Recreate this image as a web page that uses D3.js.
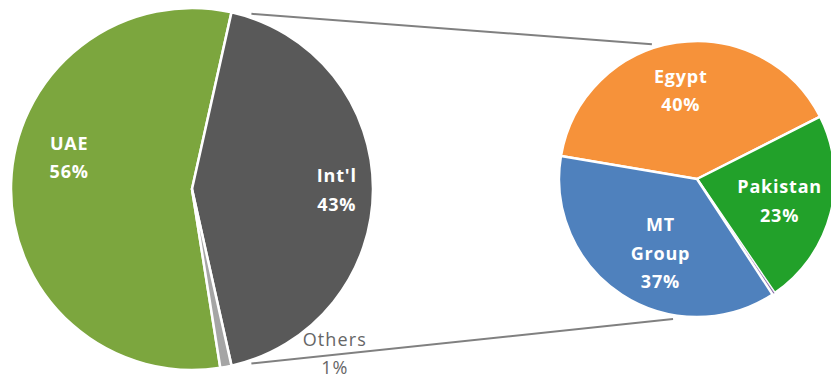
<!DOCTYPE html>
<html>
<head>
<meta charset="utf-8">
<script src="https://cdn.jsdelivr.net/npm/d3@7"></script>
<style>
  html, body { margin: 0; padding: 0; background: #ffffff; }
  svg { display: block; }
</style>
</head>
<body>
<svg id="chart" width="831" height="379"></svg>
<script>
// ---- data ----
const mainCategories = ["UAE", "Int'l", "Others"];
const mainValues = [56, 43, 1];
const subCategories = ["Egypt", "Pakistan", "Other", "MT Group"];
const subValues = [40, 23, 0.3, 37];
const mainLabels = ["56%", "43%", "1%"];
const subLabels = ["40%", "23%", "", "37%"];

// ---- layout / style ----
const W = 831, H = 379;
const deg = Math.PI / 180;
const mainPie = { cx: 192, cy: 189, r: 181 };
const subPie = { cx: 697, cy: 179, r: 138 };
const mainColors = { "UAE": "#7ca63e", "Int'l": "#595959", "Others": "#a5a5a5" };
const subColors = { "Egypt": "#f6923a", "Pakistan": "#22a12a", "Other": "#8064a2", "MT Group": "#4f81bd" };
// label placement: polar (angle deg clockwise from 12 o'clock, radius fraction)
const mainLabelPos = { "UAE": [284.3, 0.70], "Int'l": [90.5, 0.80], "Others": [139.3, 1.21] };
const subLabelPos = { "Egypt": [-10.4, 0.652], "Pakistan": [105, 0.62], "MT Group": [206.2, 0.60] };
const connectorEnds = [[-18.5, 1.03], [189.7, 1.03]];
const lineGap = 28.5, capH = 12.8;

const svg = d3.select("#chart");

// main pie: the split slice (Int'l) centred at 3 o'clock
const total = d3.sum(mainValues);
const before = mainValues[0] + mainValues[1] / 2;
const mainStart = 90 * deg - (before / total) * 2 * Math.PI;
const pieMain = d3.pie().sort(null).startAngle(mainStart).endAngle(mainStart + 2 * Math.PI);
const mainData = pieMain(mainValues).map((d, i) => Object.assign(d, { name: mainCategories[i], label: mainLabels[i] }));

const pieSub = d3.pie().sort(null).startAngle(-80.4 * deg).endAngle(-80.4 * deg + 2 * Math.PI);
const subData = pieSub(subValues).map((d, i) => Object.assign(d, { name: subCategories[i], label: subLabels[i] }));

const polar = (c, angDeg, rad) => [c.cx + rad * Math.sin(angDeg * deg), c.cy - rad * Math.cos(angDeg * deg)];
const polarR = (c, ang, rad) => [c.cx + rad * Math.sin(ang), c.cy - rad * Math.cos(ang)];

// connector lines (drawn beneath the pies)
const split = mainData[1];
const starts = [polarR(mainPie, split.startAngle, mainPie.r), polarR(mainPie, split.endAngle, mainPie.r)];
connectorEnds.forEach((e, i) => {
  const end = polar(subPie, e[0], subPie.r * e[1]);
  const s = starts[i];
  const dx = end[0] - s[0], dy = end[1] - s[1], len = Math.hypot(dx, dy);
  const s2 = [s[0] + dx / len * 20, s[1] + dy / len * 20];
  svg.append("line")
    .attr("x1", s2[0]).attr("y1", s2[1]).attr("x2", end[0]).attr("y2", end[1])
    .attr("stroke", "#808080").attr("stroke-width", 2);
});

const arcMain = d3.arc().innerRadius(0).outerRadius(mainPie.r);
const gMain = svg.append("g").attr("transform", `translate(${mainPie.cx},${mainPie.cy})`);
gMain.selectAll("path").data(mainData).join("path")
  .attr("d", arcMain)
  .attr("fill", d => mainColors[d.name])
  .attr("stroke", "#ffffff").attr("stroke-width", 2.5).attr("stroke-linejoin", "round");

const arcSub = d3.arc().innerRadius(0).outerRadius(subPie.r);
const gSub = svg.append("g").attr("transform", `translate(${subPie.cx},${subPie.cy})`);
gSub.selectAll("path").data(subData).join("path")
  .attr("d", arcSub)
  .attr("fill", d => subColors[d.name])
  .attr("stroke", "#ffffff").attr("stroke-width", d => d.name === "Other" ? 0.6 : 2.5)
  .attr("stroke-linejoin", "round");

function drawLabel(pie, pos, lines, color, weight) {
  const [x, y] = polar(pie, pos[0], pie.r * pos[1]);
  const n = lines.length;
  let firstBase = y - (n - 1) * lineGap / 2 + capH / 2;
  // keep the whole block (incl. descent) inside the picture
  const lastBase = firstBase + (n - 1) * lineGap;
  const maxBase = H - 5;
  if (lastBase > maxBase) firstBase -= (lastBase - maxBase);
  const t = svg.append("text")
    .attr("text-anchor", "middle")
    .attr("font-family", "'Open Sans', 'Noto Sans', sans-serif")
    .attr("font-size", 18)
    .attr("font-weight", weight)
    .attr("letter-spacing", weight === "bold" ? 0.8 : 1.1)
    .attr("fill", color);
  lines.forEach((ln, i) => {
    t.append("tspan").attr("x", x).attr("y", firstBase + i * lineGap).text(ln);
  });
}

mainData.forEach(d => {
  const inside = d.name !== "Others";
  drawLabel(mainPie, mainLabelPos[d.name], [d.name, d.label], inside ? "#ffffff" : "#666666", inside ? "bold" : "normal");
});
subData.forEach(d => {
  if (!d.label) return;
  const lines = d.name === "MT Group" ? ["MT", "Group", d.label] : [d.name, d.label];
  drawLabel(subPie, subLabelPos[d.name], lines, "#ffffff", "bold");
});
</script>
</body>
</html>
